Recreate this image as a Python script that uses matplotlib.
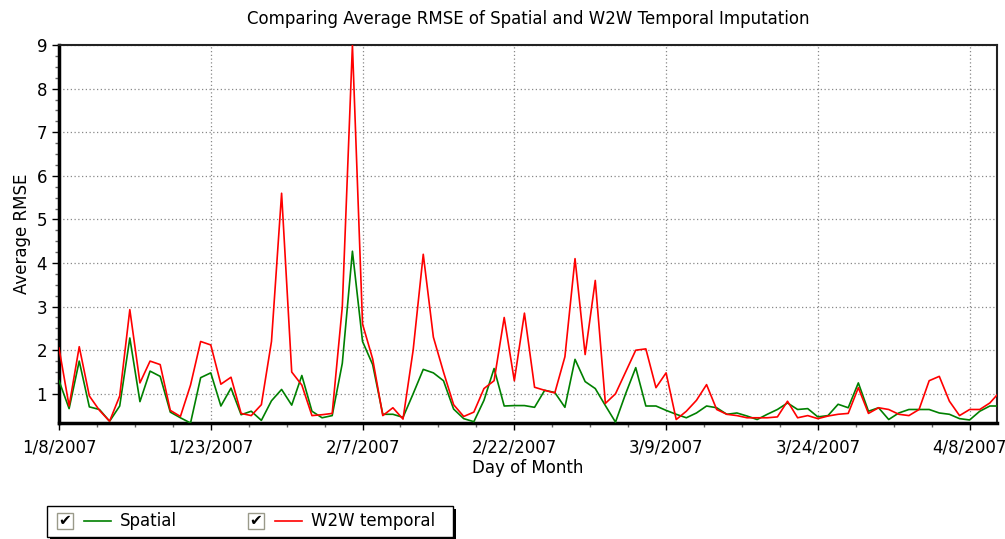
import numpy as np
import pandas as pd
import matplotlib
matplotlib.use('Agg')
import matplotlib.pyplot as plt
import matplotlib.dates as mdates
from matplotlib.patches import Rectangle
from matplotlib.lines import Line2D

# daily values, starting 1/8/2007
start = '2007-01-08'
spatial = [1.3, 0.66, 1.75, 0.7, 0.64, 0.37, 0.72, 2.28, 0.82, 1.52,
           1.4, 0.58, 0.45, 0.33, 1.37, 1.48, 0.72, 1.13, 0.52, 0.6,
           0.39, 0.84, 1.1, 0.74, 1.42, 0.6, 0.45, 0.5, 1.7, 4.27,
           2.2, 1.67, 0.53, 0.53, 0.46, 1.0, 1.56, 1.48, 1.3, 0.65,
           0.43, 0.36, 0.85, 1.58, 0.72, 0.73, 0.73, 0.69, 1.08, 1.03,
           0.69, 1.79, 1.28, 1.12, 0.73, 0.35, 1.0, 1.6, 0.72, 0.72,
           0.62, 0.53, 0.45, 0.56, 0.72, 0.68, 0.53, 0.56, 0.49, 0.41,
           0.53, 0.64, 0.79, 0.64, 0.66, 0.47, 0.5, 0.76, 0.68, 1.25,
           0.6, 0.68, 0.41, 0.56, 0.64, 0.64, 0.64, 0.56, 0.53, 0.43,
           0.4, 0.6, 0.72, 0.72]
w2w = [2.05, 0.72, 2.08, 0.95, 0.62, 0.37, 0.95, 2.93, 1.25, 1.75,
       1.67, 0.62, 0.48, 1.2, 2.2, 2.12, 1.22, 1.38, 0.55, 0.5,
       0.75, 2.2, 5.6, 1.5, 1.2, 0.5, 0.52, 0.55, 3.0, 9.0,
       2.6, 1.8, 0.5, 0.68, 0.42, 2.0, 4.2, 2.3, 1.5, 0.75,
       0.48, 0.58, 1.12, 1.3, 2.75, 1.3, 2.85, 1.15, 1.08, 1.02,
       1.85, 4.1, 1.9, 3.6, 0.78, 1.0, 1.5, 2.0, 2.03, 1.14,
       1.48, 0.41, 0.6, 0.85, 1.21, 0.64, 0.53, 0.5, 0.45, 0.45,
       0.45, 0.47, 0.83, 0.45, 0.5, 0.43, 0.49, 0.53, 0.55, 1.14,
       0.55, 0.68, 0.64, 0.53, 0.5, 0.64, 1.3, 1.4, 0.83, 0.5,
       0.64, 0.64, 0.79, 1.05]
tick_dates = ['2007-01-08', '2007-01-23', '2007-02-07', '2007-02-22',
              '2007-03-09', '2007-03-24', '2007-04-08']
labels = ['Spatial', 'W2W temporal']
colors = ['#008000', '#ff0000']

days = pd.date_range(start, periods=len(w2w), freq='D')
x = mdates.date2num(days)

fig = plt.figure(figsize=(10.05, 5.39), dpi=100)
ax = fig.add_axes([0.0587, 0.2152, 0.9333, 0.7013])

ax.plot(x, spatial, color=colors[0], lw=1.2, zorder=3)
ax.plot(x, w2w, color=colors[1], lw=1.2, zorder=4)

x0 = x[0]
ax.set_xlim(x0, x0 + 92.7)
ax.set_ylim(0.33, 9.0)

tds = pd.to_datetime(tick_dates)
ax.set_xticks(mdates.date2num(tds))
ax.set_xticklabels([f'{d.month}/{d.day}/{d.year}' for d in tds])
ax.set_xticks(np.arange(x0, x0 + 92.7, 3.75), minor=True)
ax.set_yticks(range(1, 10))
ax.set_yticks(np.arange(1.0, 9.01, 0.25), minor=True)

ax.grid(True, which='major', color='#888888', linestyle=(0, (1, 2)), lw=0.9)
ax.tick_params(which='major', length=5, width=1, labelsize=12, colors='black')
ax.tick_params(which='minor', length=3, width=1, color='#666666')
ax.tick_params(axis='x', pad=6)

for side in ['left', 'bottom']:
    ax.spines[side].set_linewidth(2.5)
for side in ['top', 'right']:
    ax.spines[side].set_linewidth(1.5)
    ax.spines[side].set_color('#222222')

ax.set_title('Comparing Average RMSE of Spatial and W2W Temporal Imputation',
             fontsize=12, pad=15)
ax.set_xlabel('Day of Month', fontsize=12, labelpad=2)
ax.set_ylabel('Average RMSE', fontsize=12, labelpad=4)


# legend box drawn by hand, with a shadow
def px(xp, yp):
    return xp / 1005, 1 - yp / 539


fig.patches.append(Rectangle(px(50, 540), 406 / 1005, 31 / 539,
                             transform=fig.transFigure, facecolor='black', zorder=1))
fig.patches.append(Rectangle(px(47, 537), 406 / 1005, 31 / 539, transform=fig.transFigure,
                             facecolor='white', edgecolor='black', lw=1, zorder=2))

for cx, col, lab in zip([57, 248], colors, labels):
    fig.patches.append(Rectangle(px(cx, 529), 16 / 1005, 16 / 539, transform=fig.transFigure,
                                 facecolor='white', edgecolor='#9a9a8a', lw=1, zorder=3))
    tx, ty = px(cx + 8, 521)
    fig.text(tx, ty, '\u2714', ha='center', va='center', fontsize=11, zorder=4)
    l0, ly = px(cx + 27, 521)
    l1, _ = px(cx + 54, 521)
    fig.lines.append(Line2D([l0, l1], [ly, ly], transform=fig.transFigure,
                            color=col, lw=1.2, zorder=4))
    lx, _ = px(cx + 63, 521)
    fig.text(lx, ly, lab, ha='left', va='center', fontsize=12, zorder=4)

fig.savefig('out.png', dpi=100)
